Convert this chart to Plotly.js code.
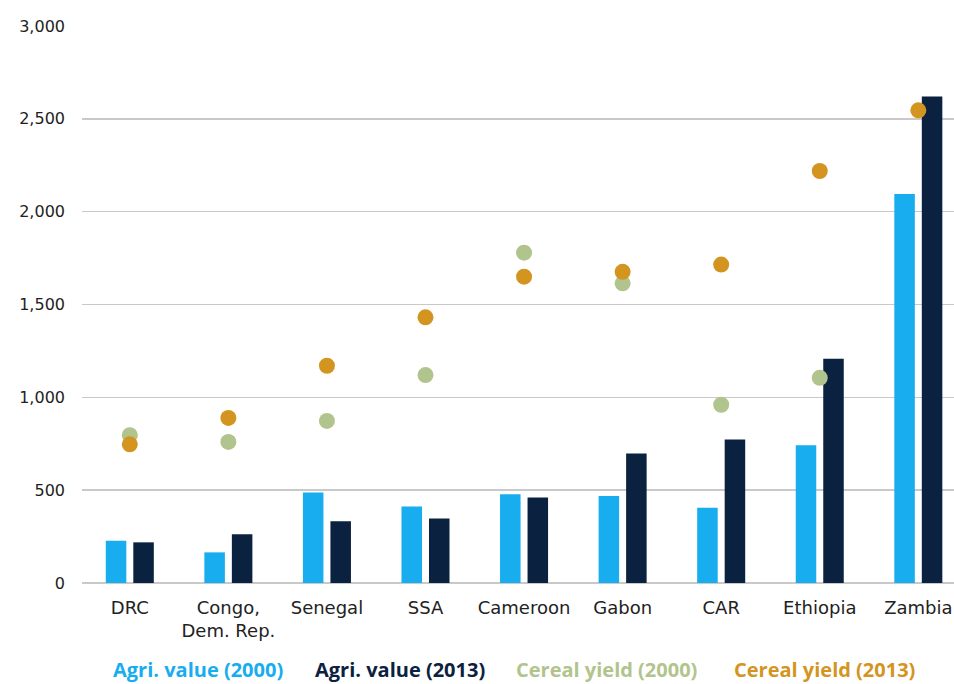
<!DOCTYPE html>
<html>
<head>
<meta charset="utf-8">
<script src="https://cdn.plot.ly/plotly-3.0.1.min.js"></script>
<style>
  html, body { margin: 0; padding: 0; background: #ffffff; }
  #chart { width: 954px; height: 684px; }
</style>
</head>
<body>
<div id="chart"></div>
<script>
// Countries / regions along the x axis
const categories = ['DRC', 'Congo,<br>Dem. Rep.', 'Senegal', 'SSA', 'Cameroon', 'Gabon', 'CAR', 'Ethiopia', 'Zambia'];

// Agricultural value added per worker (bars)
const agriValue2000 = [227, 165, 488, 412, 478, 468, 405, 742, 2095];
const agriValue2013 = [219, 262, 332, 348, 461, 698, 773, 1208, 2620];

// Cereal yield (dots)
const cerealYield2000 = [796, 760, 873, 1120, 1779, 1614, 960, 1105, null];
const cerealYield2013 = [747, 889, 1170, 1431, 1650, 1676, 1715, 2219, 2546];

const seriesNames = ['Agri. value (2000)', 'Agri. value (2013)', 'Cereal yield (2000)', 'Cereal yield (2013)'];
const seriesColors = ['#17ADEE', '#0B2140', '#B2C48D', '#D3951F'];

// Y axis ticks
const yTickValues = [0, 500, 1000, 1500, 2000, 2500, 3000];

const traces = [
  { type: 'bar', name: seriesNames[0], x: categories, y: agriValue2000,
    marker: { color: seriesColors[0] } },
  { type: 'bar', name: seriesNames[1], x: categories, y: agriValue2013,
    marker: { color: seriesColors[1] } },
  { type: 'scatter', mode: 'markers', name: seriesNames[2], x: categories, y: cerealYield2000,
    marker: { color: seriesColors[2], size: 16 } },
  { type: 'scatter', mode: 'markers', name: seriesNames[3], x: categories, y: cerealYield2013,
    marker: { color: seriesColors[3], size: 16 } }
];

// Coloured text key under the plot
const keyX = [0.133, 0.365, 0.601, 0.851];
const annotations = seriesNames.map((name, i) => ({
  xref: 'paper', yref: 'paper', x: keyX[i], y: -0.1813,
  xanchor: 'center', yanchor: 'bottom', showarrow: false,
  borderpad: 0,
  text: name,
  font: { family: 'Open Sans', size: 20, weight: 700, color: seriesColors[i] }
}));

const layout = {
  width: 954, height: 684,
  margin: { l: 82, r: 0, t: 26, b: 101, pad: 0 },
  paper_bgcolor: '#ffffff', plot_bgcolor: '#ffffff',
  showlegend: false,
  barmode: 'group',
  bargap: 0.442,
  bargroupgap: 0.254,
  xaxis: {
    type: 'category',
    range: [-0.485, 8.362],
    showgrid: false, showline: false, zeroline: false,
    ticks: '',
    ticklabelstandoff: 12,
    tickfont: { family: 'DejaVu Sans', size: 18, color: '#222222' }
  },
  yaxis: {
    range: [0, 3000],
    tickvals: yTickValues,
    tickformat: ',',
    showgrid: true, gridcolor: '#c9c9c9', gridwidth: 1.5,
    zeroline: true, zerolinecolor: '#c9c9c9', zerolinewidth: 1.5,
    showline: false, ticks: '',
    ticklabelstandoff: 16,
    tickfont: { family: 'DejaVu Sans', size: 16, color: '#1e1e1e' }
  },
  annotations: annotations,
  hovermode: false
};

Plotly.newPlot('chart', traces, layout, { displayModeBar: false, staticPlot: true });
</script>
</body>
</html>
